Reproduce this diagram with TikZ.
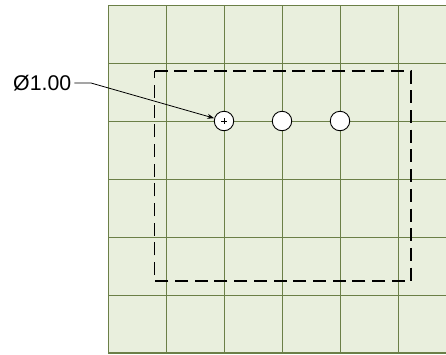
\documentclass[tikz,border=0pt]{standalone}
\usepackage{fontspec}
\setmainfont{Liberation Sans}
\usetikzlibrary{arrows.meta}
\definecolor{cellfill}{HTML}{E9EFDD}
\definecolor{gridline}{HTML}{6B7F47}
\tikzset{
  gridrule/.style={draw=gridline,line width=1.1pt},
  hole/.style={circle,draw=black,fill=white,line width=0.9pt,minimum size=19.5pt,inner sep=0pt},
  outline/.style={draw=black,line width=1.6pt,dash pattern=on 13pt off 6.7pt},
  leader/.style={draw=black,line width=0.8pt,-{Stealth[length=7pt,width=5pt]}},
  dimtext/.style={inner sep=0pt,font=\fontsize{21.3}{24}\selectfont}
}
\begin{document}
\begin{tikzpicture}[x=1pt,y=-1pt]
\useasboundingbox (0,0) rectangle (446,354);
\fill[cellfill] (108,5.5) rectangle (446,353);
\foreach \yy in {5.9,63.9,121.9,179.9,237.9,295.9,353}
  \draw[gridrule] (108,\yy) -- (446,\yy);
\foreach \xx in {108.3,166.3,224.3,282.3,340.3,398.3}
  \draw[gridrule] (\xx,5.5) -- (\xx,353);
\draw[outline] (154.5,71) -- (411,71) -- (411,281) -- (154.5,281) -- cycle;
\node[hole] (h1) at (224,121) {};
\node[hole] (h2) at (282,121) {};
\node[hole] (h3) at (340,121) {};
\draw[line width=0.6pt] (221,121) -- (227,121) (224,118) -- (224,124);
\node[dimtext,anchor=west] (lab) at (13,83) {Ø1.00};
\coordinate (bend) at (91,83);
\draw[leader] (lab.east) ++(3,0) -- (bend) -- (h1);
\end{tikzpicture}
\end{document}
